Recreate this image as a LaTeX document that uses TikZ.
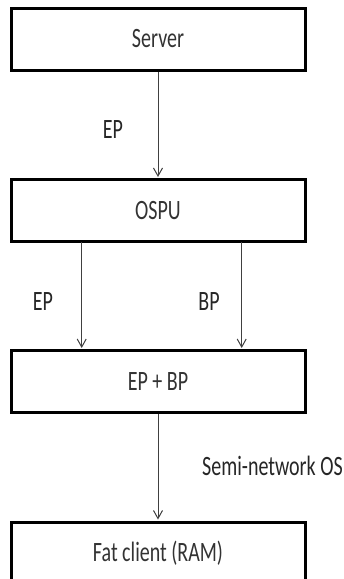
\documentclass[tikz,border=0pt]{standalone}
\usepackage{fontspec}
\setmainfont{Carlito}
\usetikzlibrary{arrows.meta}
\newcommand{\tallt}[1]{\scalebox{1}[1.4]{#1}}
\begin{document}
\begin{tikzpicture}[x=1pt,y=-1pt,
  box/.style={draw=black,line width=3pt,minimum width=294pt,minimum height=62pt,inner sep=0pt,fill=white,
    font=\fontsize{20pt}{24pt}\selectfont,text=black!80},
  lab/.style={font=\fontsize{20pt}{24pt}\selectfont,text=black!85,inner sep=0pt},
  conn/.style={draw=black!75,line width=1pt,-{Straight Barb[length=8pt,width=9pt]},shorten >=1pt}]
\useasboundingbox (0,0) rectangle (344,579);
\clip (0,0) rectangle (344,579);
\node[box] (server) at (158,39) {\tallt{Server}};
\node[box] (ospu) at (158,210.5) {\tallt{OSPU}};
\node[box] (epbp) at (158,381.5) {\tallt{EP + BP}};
\node[box] (fat) at (158,553) {\tallt{Fat client (RAM)}};
\draw[conn] (server) -- (ospu);
\coordinate (o1) at (81.7,242);
\coordinate (o2) at (241.7,242);
\draw[conn] (o1) -- (o1 |- epbp.north);
\draw[conn] (o2) -- (o2 |- epbp.north);
\draw[conn] (epbp) -- (fat);
\node[lab] (l1) at (113,130) {\tallt{EP}};
\node[lab] (l2) at (43,302) {\tallt{EP}};
\node[lab] (l3) at (209,302) {\tallt{BP}};
\node[lab,anchor=west] (l4) at (202,466) {\tallt{Semi-network OS}};
\end{tikzpicture}
\end{document}
